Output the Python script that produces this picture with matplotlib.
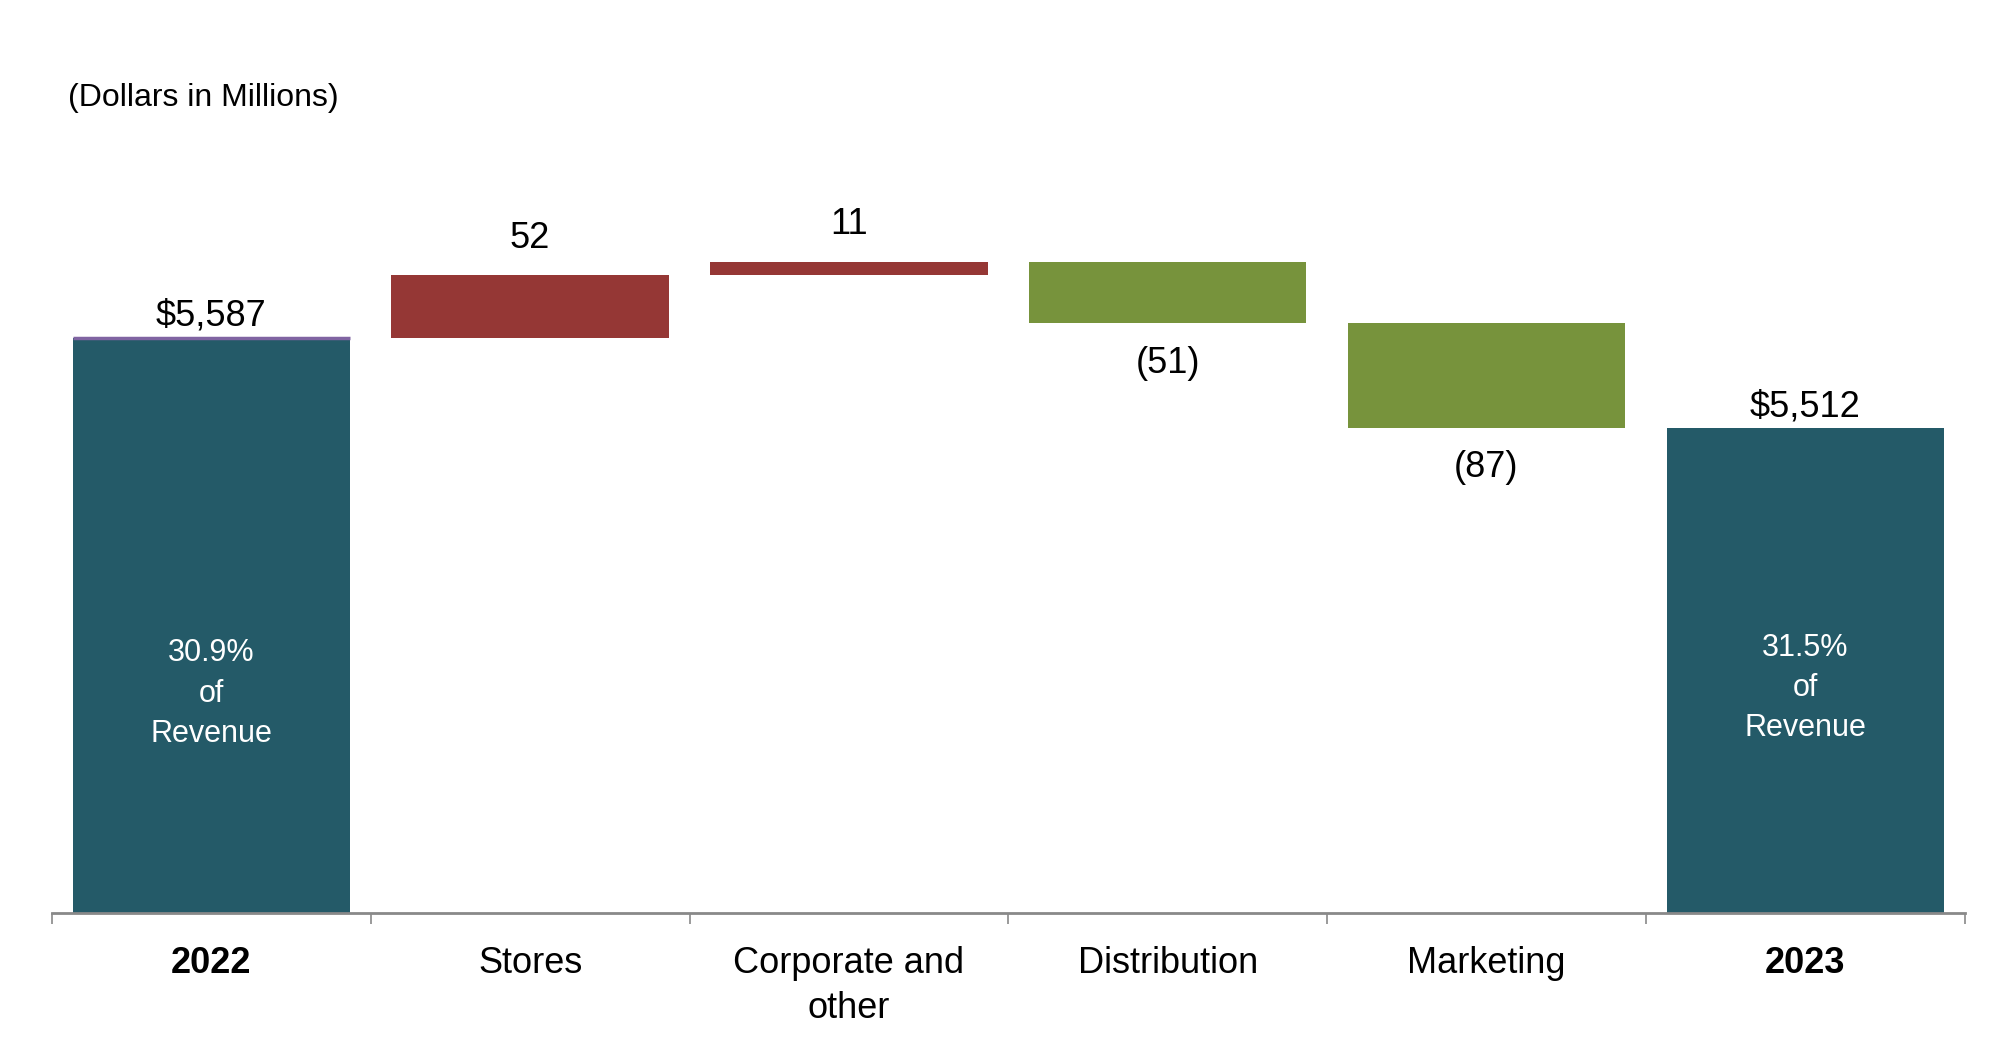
import numpy as np
import matplotlib.pyplot as plt
from matplotlib.transforms import blended_transform_factory

plt.rcParams['font.family'] = ['Liberation Sans', 'DejaVu Sans']

# waterfall data (dollars in millions)
categories = ['2022', 'Stores', 'Corporate and\nother', 'Distribution', 'Marketing', '2023']
start_total = 5587
changes = [52, 11, -51, -87]
end_total = 5512
change_labels = ['52', '11', '(51)', '(87)']
total_labels = ['$5,587', '$5,512']
pct_labels = ['30.9%\nof\nRevenue', '31.5%\nof\nRevenue']

teal = '#245a68'
red = '#953735'
green = '#77933c'
purple = '#8064a2'

y_floor = 5110  # axis does not start at zero
bar_w = 0.87

fig = plt.figure(figsize=(20.07, 10.38), dpi=100)
ax = fig.add_axes([0.0259, 0.1204, 0.953, 0.783])

x = np.arange(len(categories))

# totals
totals = [start_total, end_total]
tot_x = [x[0], x[-1]]
ax.bar(tot_x, [t - y_floor for t in totals], bottom=y_floor, width=bar_w,
       color=teal, zorder=2)
ax.hlines(start_total, x[0] - bar_w / 2, x[0] + bar_w / 2, color=purple, lw=2.5, zorder=3)

# floating change bars
running = start_total
for i, ch in enumerate(changes):
    xi = x[i + 1]
    lo = running if ch > 0 else running + ch
    col = red if ch > 0 else green
    ax.bar(xi, abs(ch), bottom=lo, width=bar_w, color=col, zorder=2)
    if ch > 0:
        ax.annotate(change_labels[i], (xi, running + ch), xytext=(0, 14),
                    textcoords='offset points', ha='center', va='bottom', fontsize=26)
    else:
        ax.annotate(change_labels[i], (xi, running + ch), xytext=(0, -16),
                    textcoords='offset points', ha='center', va='top', fontsize=26)
    running += ch

for xi, t, lab in zip(tot_x, totals, total_labels):
    ax.annotate(lab, (xi, t), xytext=(0, 3), textcoords='offset points',
                ha='center', va='bottom', fontsize=26)

trans = blended_transform_factory(ax.transData, ax.transAxes)
for xi, lab, yy in zip(tot_x, pct_labels, [0.270, 0.277]):
    ax.text(xi, yy, lab, transform=trans, ha='center', va='center',
            color='white', fontsize=22, linespacing=1.45)

ax.set_xlim(-0.5, len(categories) - 0.5)
ax.set_ylim(y_floor, y_floor + 674)

for s in ['top', 'right', 'left']:
    ax.spines[s].set_visible(False)
ax.spines['bottom'].set_color('#898989')
ax.spines['bottom'].set_linewidth(2)
ax.set_yticks([])

ax.set_xticks(x)
ax.set_xticklabels(categories, fontsize=26, linespacing=1.35)
for lab in [ax.get_xticklabels()[0], ax.get_xticklabels()[-1]]:
    lab.set_fontweight('bold')
ax.set_xticks(np.arange(-0.5, len(categories)), minor=True)
ax.tick_params(axis='x', which='major', length=0, pad=24)
ax.tick_params(axis='x', which='minor', length=8, width=1.2, color='#898989', direction='out')

fig.text(68 / 2007, 1 - 98 / 1038, '(Dollars in Millions)', fontsize=23, va='center', ha='left')

fig.savefig('out.png', dpi=100)
